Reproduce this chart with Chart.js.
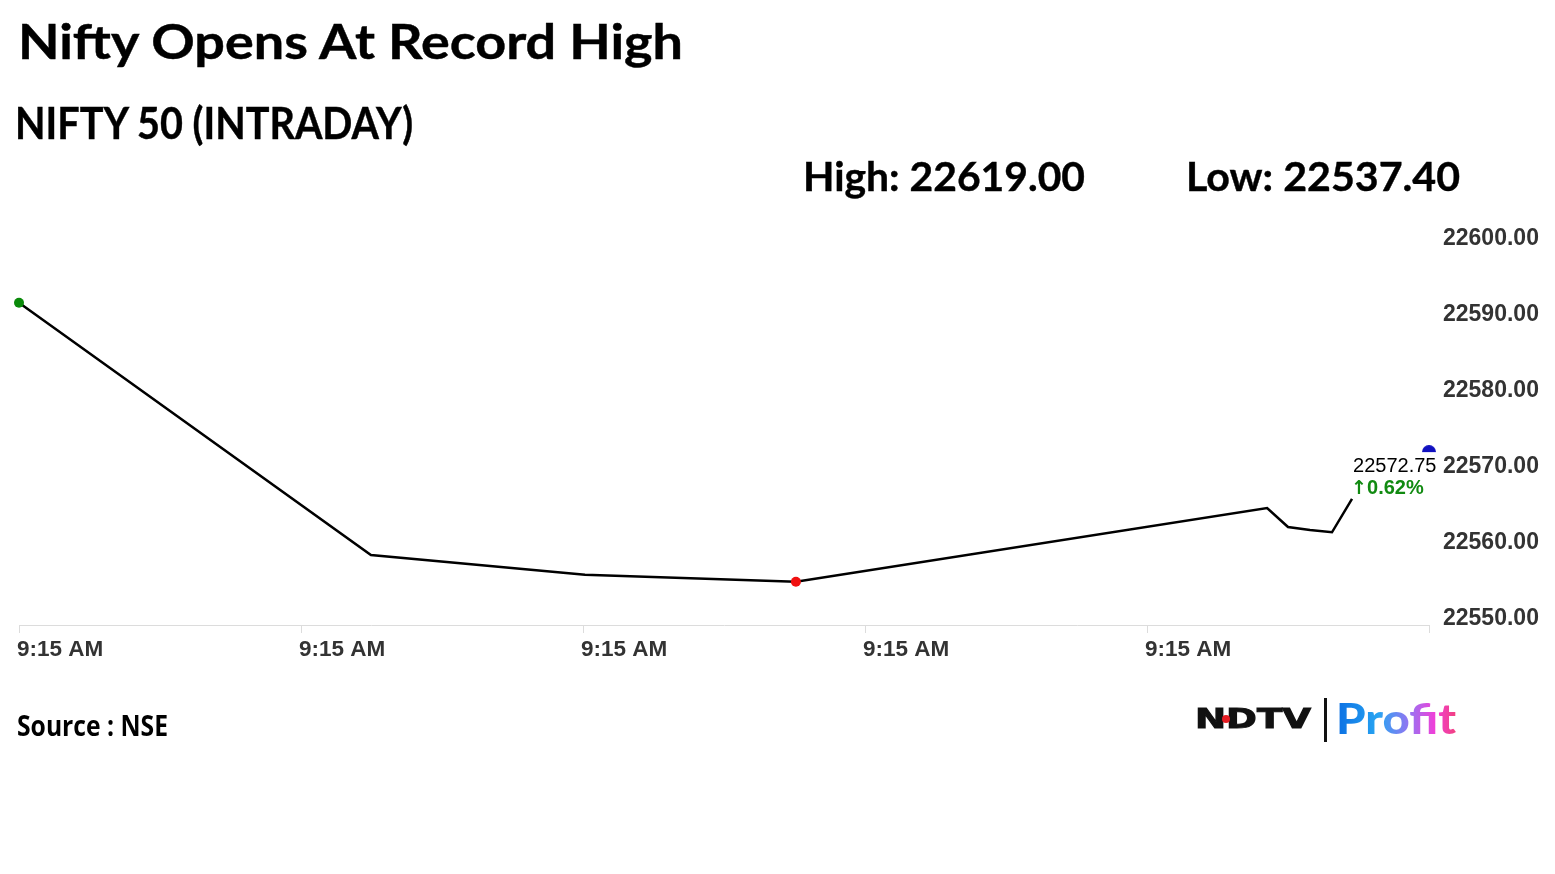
<!DOCTYPE html>
<html>
<head>
<meta charset="utf-8">
<script src="https://cdn.jsdelivr.net/npm/chart.js@4.4.1/dist/chart.umd.min.js"></script>
<style>
    body { margin: 0; width: 1555px; height: 874px; background: #fff; position: relative; overflow: hidden; }
    .txt { position: absolute; white-space: nowrap; line-height: 1; color: #000; transform-origin: 0 0; }
    .title { font-family: Lato, sans-serif; font-weight: 700; -webkit-text-stroke: 0.4px #000; }
    #chartCanvas { position: absolute; left: 0; top: 200px; }
    .logo-bar { position: absolute; left: 1324px; top: 698px; width: 3px; height: 44px; background: #111; }
    .logo-dot { position: absolute; left: 1222px; top: 715px; width: 8px; height: 8px; border-radius: 50%; background: #e51c23; }
    .profit {
        font-family: Lato, sans-serif; font-weight: 900;
        background: linear-gradient(90deg, #0b6fe3 0%, #27a4f2 35%, #9a72f2 62%, #f03fd8 82%, #f2407c 100%);
        -webkit-background-clip: text; background-clip: text; color: transparent;
    }
</style>
</head>
<body>
<div class="txt title" id="chartTitle" data-w="665" style="left:18px; top:18px; font-size:47px;"></div>
<div class="txt title" id="chartSubtitle" data-w="398" style="left:15px; top:100px; font-size:44px;"></div>
<div class="txt title" id="highText" data-w="282" style="left:803px; top:155px; font-size:41px;"></div>
<div class="txt title" id="lowText" data-w="274" style="left:1186px; top:155px; font-size:41px;"></div>

<canvas id="chartCanvas" width="1555" height="480"></canvas>

<div class="txt" id="sourceText" data-w="151" style="left:17px; top:711px; font-family:'Open Sans', sans-serif; font-weight:700; font-size:28px;">Source : NSE</div>

<div class="txt" data-w="116" style="left:1195px; top:705px; font-family:'DejaVu Sans', sans-serif; font-weight:700; font-size:27px; color:#111; -webkit-text-stroke: 1px #111;">NDTV</div>
<div class="logo-dot"></div>
<div class="logo-bar"></div>
<div class="txt profit" data-w="120" style="left:1336px; top:697px; font-size:42px;">Profit</div>

<script>
// Datos del gráfico
const chartTitle = 'Nifty Opens At Record High';
const chartSubtitle = 'NIFTY 50 (INTRADAY)';
const dayHigh = 22619.00;
const dayLow = 22537.40;

// posiciones en el eje x (en intervalos de tick) y precios
const timeLabels = ['9:15 AM', '9:15 AM', '9:15 AM', '9:15 AM', '9:15 AM'];
const pointX = [0, 1.248, 2.007, 2.755, 4.426, 4.5, 4.578, 4.656, 4.727];
const prices = [22592.4, 22559.2, 22556.6, 22555.7, 22565.4, 22562.9, 22562.5, 22562.2, 22566.6];
const lastX = 5;
const lastPrice = 22572.75;
const changePct = 0.62;
const yTicks = [22550, 22560, 22570, 22580, 22590, 22600];

document.getElementById('chartTitle').innerText = chartTitle;
document.getElementById('chartSubtitle').innerText = chartSubtitle;
document.getElementById('highText').innerText = 'High: ' + dayHigh.toFixed(2);
document.getElementById('lowText').innerText = 'Low: ' + dayLow.toFixed(2);

// marcadores: verde al inicio, rojo en el mínimo
const minIdx = prices.indexOf(Math.min(...prices));
const pointColors = prices.map((p, i) => i === 0 ? '#0a8a0a' : (i === minIdx ? '#f01010' : 'transparent'));
const pointRadii = prices.map((p, i) => (i === 0 || i === minIdx) ? 5 : 0);

// medio círculo azul para el último valor
const halfDot = document.createElement('canvas');
halfDot.width = 14;
halfDot.height = 14;
const hctx = halfDot.getContext('2d');
hctx.fillStyle = '#1010c0';
hctx.beginPath();
hctx.arc(7, 7, 7, Math.PI, 2 * Math.PI);
hctx.closePath();
hctx.fill();

const lastLabelPlugin = {
    id: 'lastLabel',
    afterDatasetsDraw(chart) {
        const meta = chart.getDatasetMeta(0);
        const end = meta.data[meta.data.length - 1];
        const ctx = chart.ctx;
        ctx.save();
        ctx.textAlign = 'left';
        ctx.textBaseline = 'alphabetic';
        ctx.fillStyle = '#000';
        ctx.font = '20px "Liberation Sans", Arial, sans-serif';
        ctx.fillText(lastPrice.toFixed(2), end.x + 1, end.y - 27);
        ctx.fillStyle = '#118a11';
        ctx.font = 'bold 19px "DejaVu Sans", sans-serif';
        ctx.fillText('\u2191', end.x - 1, end.y - 5);
        ctx.font = 'bold 20px "Liberation Sans", Arial, sans-serif';
        ctx.fillText(changePct.toFixed(2) + '%', end.x + 15, end.y - 5);
        ctx.restore();
    }
};

const chart = new Chart(document.getElementById('chartCanvas'), {
    type: 'line',
    data: {
        datasets: [{
            data: pointX.map((x, i) => ({ x: x, y: prices[i] })),
            borderColor: '#000',
            borderWidth: 2.5,
            tension: 0,
            pointRadius: pointRadii,
            pointBackgroundColor: pointColors,
            pointBorderWidth: 0,
            clip: false
        }, {
            data: [{ x: lastX, y: lastPrice }],
            showLine: false,
            pointStyle: halfDot,
            pointRadius: 7,
            clip: false
        }]
    },
    options: {
        responsive: false,
        animation: false,
        layout: { padding: { left: 19, top: 45, right: 0, bottom: 0 } },
        plugins: { legend: { display: false }, tooltip: { enabled: false } },
        scales: {
            x: {
                type: 'linear',
                min: 0,
                max: timeLabels.length,
                afterBuildTicks: (scale) => {
                    scale.ticks = timeLabels.map((t, i) => ({ value: i })).concat([{ value: timeLabels.length }]);
                },
                afterFit: (scale) => { scale.height = 55; },
                border: { display: true, color: '#dcdcdc', width: 1 },
                grid: { drawOnChartArea: false, color: '#dcdcdc', tickLength: 8 },
                ticks: {
                    autoSkip: false,
                    maxRotation: 0,
                    align: 'start',
                    padding: 3,
                    labelOffset: -2,
                    color: '#333',
                    font: { family: '"Liberation Sans", Arial, sans-serif', size: 22.5, weight: 'bold' },
                    callback: (v, i) => timeLabels[i] || ''
                }
            },
            y: {
                position: 'right',
                min: yTicks[0],
                max: yTicks[yTicks.length - 1],
                afterBuildTicks: (scale) => { scale.ticks = yTicks.map(v => ({ value: v })); },
                afterFit: (scale) => { scale.width = 126; },
                border: { display: false },
                grid: { display: false, drawTicks: false },
                ticks: {
                    padding: 14,
                    labelOffset: -6,
                    color: '#333',
                    font: { family: '"Liberation Sans", Arial, sans-serif', size: 23, weight: 'bold' },
                    callback: (v) => Number(v).toFixed(2)
                }
            }
        }
    },
    plugins: [lastLabelPlugin]
});

// ajustar ancho de los textos
function fitTexts() {
    document.querySelectorAll('.txt[data-w]').forEach(el => {
        el.style.transform = 'none';
        const w = el.getBoundingClientRect().width;
        const target = parseFloat(el.dataset.w);
        el.style.transform = 'scaleX(' + (target / w) + ')';
    });
}
fitTexts();
if (document.fonts) document.fonts.ready.then(fitTexts);
</script>
</body>
</html>
